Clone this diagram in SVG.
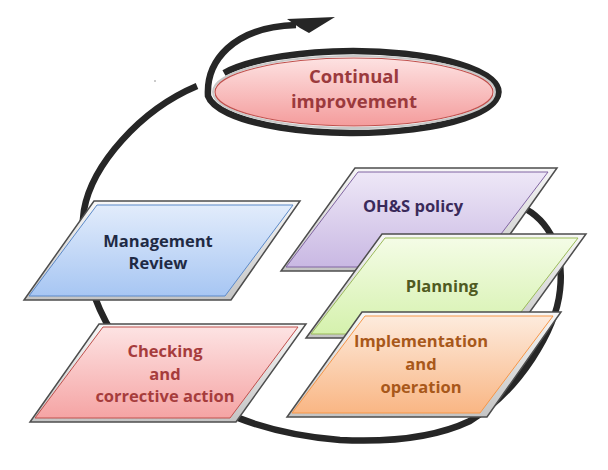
<svg xmlns="http://www.w3.org/2000/svg" width="608" height="470" viewBox="0 0 608 470">
<defs>
<linearGradient id="gFrame" x1="0" y1="0" x2="0" y2="1"><stop offset="0" stop-color="#f7f7f7"/><stop offset="1" stop-color="#c4c4c4"/></linearGradient>
<linearGradient id="gBlue" x1="0" y1="0" x2="0" y2="1"><stop offset="0" stop-color="#e2ecfb"/><stop offset="1" stop-color="#a7c6f3"/></linearGradient>
<linearGradient id="gRed" x1="0" y1="0" x2="0" y2="1"><stop offset="0" stop-color="#fde3e3"/><stop offset="1" stop-color="#f5a4a4"/></linearGradient>
<linearGradient id="gPurple" x1="0" y1="0" x2="0" y2="1"><stop offset="0" stop-color="#eee8f7"/><stop offset="1" stop-color="#c9b8e3"/></linearGradient>
<linearGradient id="gGreen" x1="0" y1="0" x2="0" y2="1"><stop offset="0" stop-color="#f4fce6"/><stop offset="1" stop-color="#d5f1ad"/></linearGradient>
<linearGradient id="gOrange" x1="0" y1="0" x2="0" y2="1"><stop offset="0" stop-color="#fdebdd"/><stop offset="1" stop-color="#f9b684"/></linearGradient>
<linearGradient id="gEll" x1="0" y1="0" x2="0" y2="1"><stop offset="0" stop-color="#fde2e2"/><stop offset="1" stop-color="#f49c9c"/></linearGradient>
<style>
.frame{fill:url(#gFrame);stroke:#4d4d4d;stroke-width:1.5;stroke-linejoin:miter}
.loop{fill:none;stroke:#262626;stroke-width:6.5;stroke-linecap:butt}
.lbl{font-family:"Open Sans","Liberation Sans",sans-serif;font-weight:700;font-size:16.5px;text-anchor:middle}
</style>
</defs>
<rect width="608" height="470" fill="#ffffff"/>

<g id="connectors">
<path class="loop" d="M515,204 C545,215 565,245 560,290 C556,330 520,390 470,421 C430,440 380,442 340,440 C290,436 250,425 215,408 C170,385 120,350 106,322 C90,292 78,250 84,210 C92,165 140,110 197,86"/>
<path class="loop" stroke-width="6" d="M224,73 A145.5 41 0 1 1 208,96 C206,62 232,27 296,25"/>
<polygon points="287,19 335,17 309,33 300,28" fill="#262626"/>
<circle cx="155" cy="81" r="0.8" fill="#888"/>
</g>

<g id="continual-improvement">
<ellipse cx="354" cy="92" rx="141" ry="36" fill="none" stroke="#c8c8c8" stroke-width="2"/>
<ellipse cx="354" cy="92" rx="139" ry="34" fill="url(#gEll)" stroke="#c0504d" stroke-width="1.2"/>
<text class="lbl" x="354" y="83" fill="#9b3a3d" style="font-size:18.5px">Continual</text>
<text class="lbl" x="354" y="108" fill="#9b3a3d" style="font-size:18.5px">improvement</text>
</g>

<g id="management-review">
<polygon class="frame" points="94,201 300,201 231,300 24,300"/>
<polygon points="97,205 293,205 225,296 29,296" fill="url(#gBlue)" stroke="#5b89c9" stroke-width="1"/>
<text class="lbl" x="158" y="247" fill="#1f2a44">Management</text>
<text class="lbl" x="158" y="269" fill="#1f2a44">Review</text>
</g>

<g id="checking">
<polygon class="frame" points="99,324 306,324 236,422 30,422"/>
<polygon points="103,327 298,327 230,418 35,418" fill="url(#gRed)" stroke="#c0504d" stroke-width="1"/>
<text class="lbl" x="165" y="357" fill="#a63c3c">Checking</text>
<text class="lbl" x="165" y="380" fill="#a63c3c">and</text>
<text class="lbl" x="165" y="402" fill="#a63c3c">corrective action</text>
</g>

<g id="ohs-policy">
<polygon class="frame" points="355,168 557,168 484,271 281,271"/>
<polygon points="358,172 548,172 476,267 286,267" fill="url(#gPurple)" stroke="#8064a2" stroke-width="1"/>
<text class="lbl" x="413" y="212" fill="#3a2a5a">OH&amp;S policy</text>
</g>

<g id="planning">
<polygon class="frame" points="382,234 586,234 511,338 306,338"/>
<polygon points="385,238 578,238 504,334 311,334" fill="url(#gGreen)" stroke="#9bbb59" stroke-width="1"/>
<text class="lbl" x="442" y="292" fill="#4f5a22">Planning</text>
</g>

<g id="implementation">
<polygon class="frame" points="362,312 561,312 487,417 287,417"/>
<polygon points="365,316 553,316 480,413 292,413" fill="url(#gOrange)" stroke="#f79646" stroke-width="1"/>
<text class="lbl" x="421" y="347" fill="#a8581a">Implementation</text>
<text class="lbl" x="421" y="370" fill="#a8581a">and</text>
<text class="lbl" x="421" y="393" fill="#a8581a">operation</text>
</g>
</svg>
